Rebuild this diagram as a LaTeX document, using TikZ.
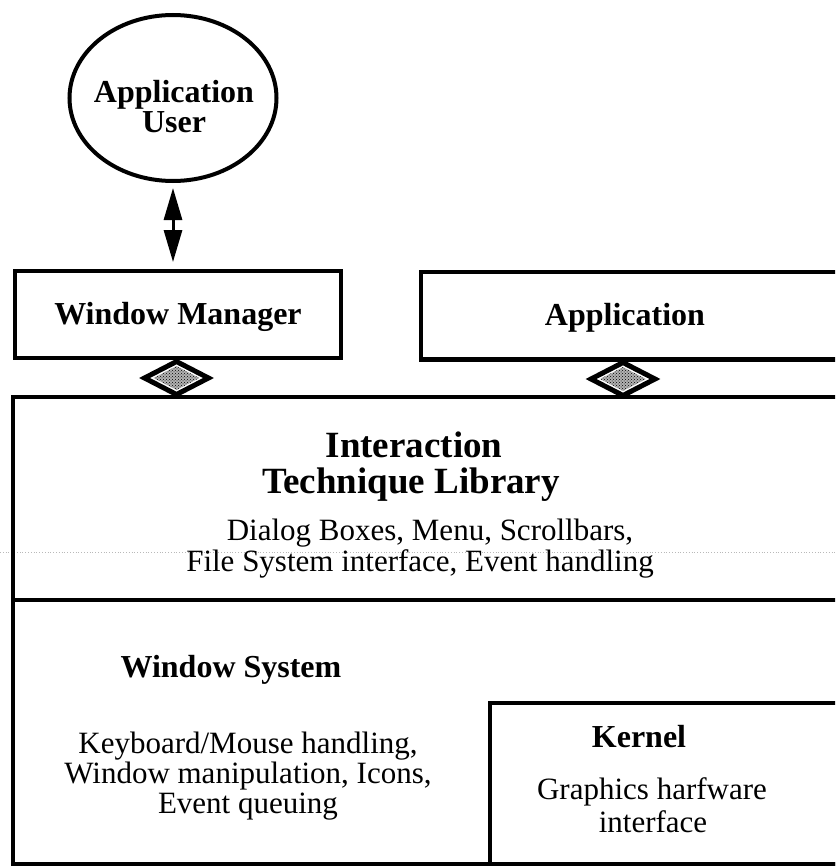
\documentclass[tikz,border=0pt]{standalone}
\usepackage{fontspec}
\setmainfont{Liberation Serif}
\usetikzlibrary{shapes.geometric,arrows.meta,patterns}
\begin{document}
\begin{tikzpicture}[x=1pt,y=-1pt,
  boxnode/.style={draw, line width=4.5pt, inner sep=0pt},
  bt/.style={font=\fontsize{32}{30}\selectfont\bfseries, inner sep=0pt, anchor=base},
  bigt/.style={font=\fontsize{37}{36}\selectfont\bfseries, inner sep=0pt, anchor=base},
  rt/.style={font=\fontsize{31}{31}\selectfont, inner sep=0pt, anchor=base},
  joint/.style={diamond, draw, fill=white, line width=5pt, inner sep=0pt, minimum width=66pt, minimum height=35pt},
  jointfill/.style={diamond, inner sep=0pt, minimum width=46pt, minimum height=24pt, fill=gray!60, postaction={pattern=crosshatch dots, pattern color=black}},
  dblarrow/.style={line width=3pt, {Triangle[length=32pt,width=18pt]}-{Triangle[length=32pt,width=18pt]}}
]
\useasboundingbox (0,0) rectangle (835,867);
\clip (0,0) rectangle (835,867);

% scan artefact line
\draw[gray!55, dotted, line width=0.8pt] (0,552) -- (835,552);

% user ellipse
\node[ellipse, draw, line width=4pt, minimum width=207pt, minimum height=166pt, inner sep=0pt] (user) at (173,98) {};
\node[bt] (ut1) at (174,102) {Application};
\node[bt] (ut2) at (174,132) {User};

% top boxes
\node[boxnode, minimum width=326pt, minimum height=87pt] (wm) at (178,314.3) {};
\node[bt] (wmt) at (178,324) {Window Manager};
\node[boxnode, minimum width=429pt, minimum height=87.5pt] (app) at (635.5,315.8) {};
\node[bt] (appt) at (625,325) {Application};

% big box
\node[boxnode, minimum width=837pt, minimum height=467pt] (big) at (431.5,630.5) {};
\coordinate (divl) at (13,600);
\coordinate (divr) at (850,600);
\draw[line width=4pt] (divl) -- (divr);

% kernel box
\node[draw, line width=3.5pt, inner sep=0pt, minimum width=360pt, minimum height=161pt] (kern) at (670,783.5) {};

% arrow
\draw[dblarrow, shorten <=5pt, shorten >=6.5pt] (user.south) -- (user.south |- wm.north);

% diamonds
\node[joint] (d1) at (176.5,378) {};
\node[jointfill] (d1f) at (d1) {};
\node[joint] (d2) at (623,379) {};
\node[jointfill] (d2f) at (d2) {};

% interaction technique library
\node[bigt] (it1) at (414,457) {Interaction};
\node[bigt] (it2) at (411,493) {Technique Library};
\node[rt] (it3) at (430,540) {Dialog Boxes, Menu, Scrollbars,};
\node[rt] (it4) at (420,571) {File System interface, Event handling};

% window system
\node[bt] (ws1) at (231,677) {Window System};
\node[rt] (ws2) at (248,753) {Keyboard/Mouse handling,};
\node[rt] (ws3) at (248,783) {Window manipulation, Icons,};
\node[rt] (ws4) at (248,813) {Event queuing};

% kernel
\node[bt] (k1) at (639,747) {Kernel};
\node[rt] (k2) at (652,799) {Graphics harfware};
\node[rt] (k3) at (653,832) {interface};
\end{tikzpicture}
\end{document}
